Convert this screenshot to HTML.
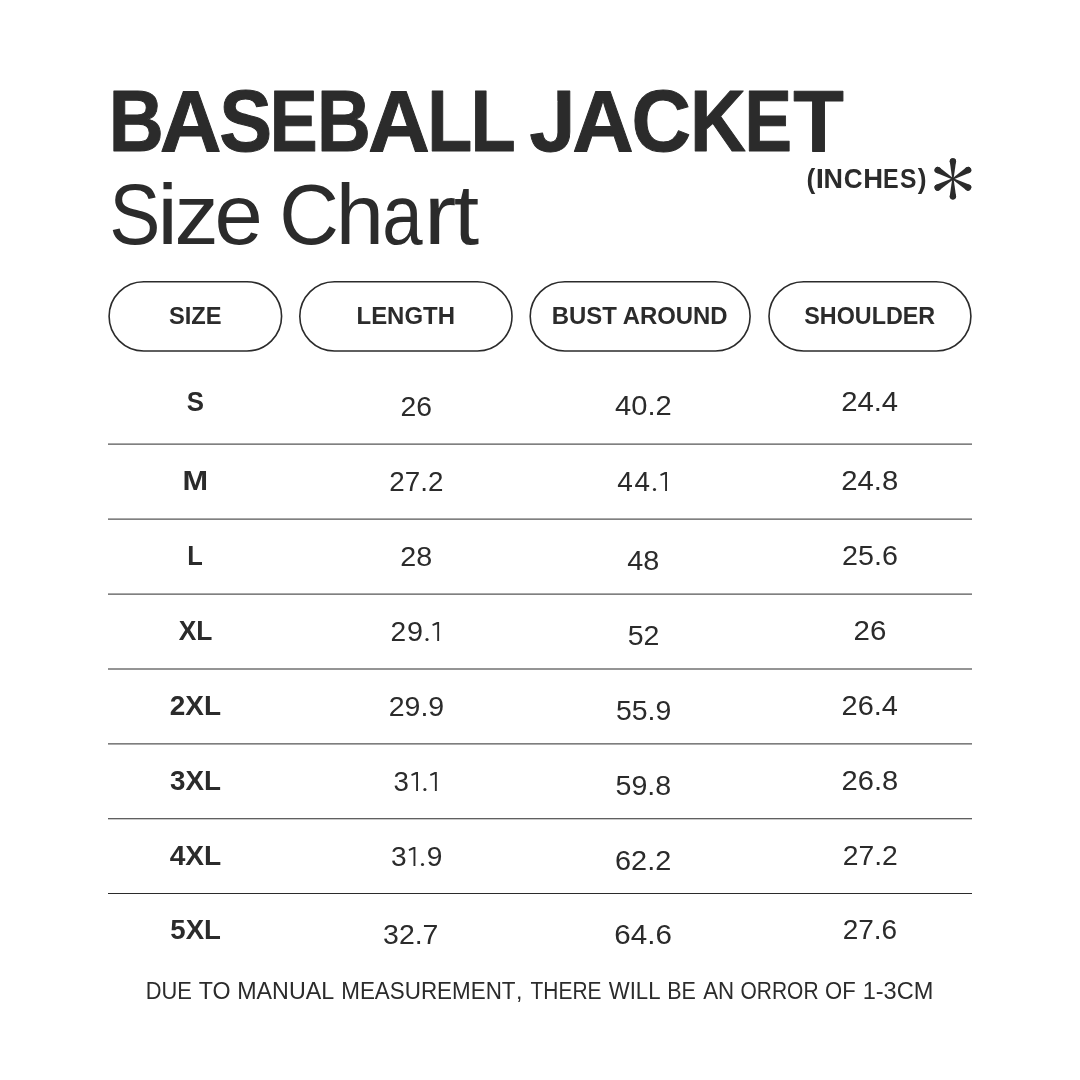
<!DOCTYPE html>
<html><head><meta charset="utf-8"><title>Baseball Jacket Size Chart</title>
<style>
html,body{margin:0;padding:0;background:#fff;width:1080px;height:1080px;overflow:hidden}
svg{display:block;position:absolute;left:0;top:0;will-change:transform}
text{font-family:"Liberation Sans",sans-serif;fill:#2b2b2b}
</style></head><body>
<svg width="1080" height="1080" viewBox="0 0 1080 1080">
<rect width="1080" height="1080" fill="#fff"/>
<g fill="none" stroke="#2b2b2b" stroke-width="1.6"><rect x="109.10" y="281.70" width="172.50" height="69.30" rx="34.65" ry="34.65"/><rect x="299.80" y="281.70" width="212.20" height="69.30" rx="34.65" ry="34.65"/><rect x="530.20" y="281.70" width="219.90" height="69.30" rx="34.65" ry="34.65"/><rect x="769.00" y="281.70" width="201.90" height="69.30" rx="34.65" ry="34.65"/></g>
<g stroke="#2b2b2b" stroke-width="1.0"><line x1="108" x2="972" y1="444.10" y2="444.10"/><line x1="108" x2="972" y1="519.10" y2="519.10"/><line x1="108" x2="972" y1="594.10" y2="594.10"/><line x1="108" x2="972" y1="669.00" y2="669.00"/><line x1="108" x2="972" y1="743.90" y2="743.90"/><line x1="108" x2="972" y1="818.75" y2="818.75"/><line x1="108" x2="972" y1="893.50" y2="893.50"/></g>
<g fill="#2b2b2b"><g transform="rotate(0 952.9 178.8)"><path d="M952.20 178.80 L949.75 161.30 A3.15 3.15 0 0 1 956.05 161.30 L953.60 178.80 Z"/><circle cx="952.9" cy="161.30" r="3.15"/></g><g transform="rotate(60 952.9 178.8)"><path d="M952.20 178.80 L949.75 161.30 A3.15 3.15 0 0 1 956.05 161.30 L953.60 178.80 Z"/><circle cx="952.9" cy="161.30" r="3.15"/></g><g transform="rotate(120 952.9 178.8)"><path d="M952.20 178.80 L949.75 161.30 A3.15 3.15 0 0 1 956.05 161.30 L953.60 178.80 Z"/><circle cx="952.9" cy="161.30" r="3.15"/></g><g transform="rotate(180 952.9 178.8)"><path d="M952.20 178.80 L949.75 161.30 A3.15 3.15 0 0 1 956.05 161.30 L953.60 178.80 Z"/><circle cx="952.9" cy="161.30" r="3.15"/></g><g transform="rotate(240 952.9 178.8)"><path d="M952.20 178.80 L949.75 161.30 A3.15 3.15 0 0 1 956.05 161.30 L953.60 178.80 Z"/><circle cx="952.9" cy="161.30" r="3.15"/></g><g transform="rotate(300 952.9 178.8)"><path d="M952.20 178.80 L949.75 161.30 A3.15 3.15 0 0 1 956.05 161.30 L953.60 178.80 Z"/><circle cx="952.9" cy="161.30" r="3.15"/></g></g>
<text transform="translate(168.89 323.68) scale(0.9648 1)" font-weight="bold" font-size="24.58">SIZE</text>
<text transform="translate(356.54 323.58) scale(0.9743 1)" font-weight="bold" font-size="24.58">LENGTH</text>
<text transform="translate(551.74 323.73) scale(0.9738 1)" font-weight="bold" font-size="24.58">BUST AROUND</text>
<text transform="translate(804.30 323.63) scale(0.9493 1)" font-weight="bold" font-size="24.58">SHOULDER</text>
<text transform="translate(186.82 410.80) scale(0.9090 1)" font-weight="bold" font-size="28.42">S</text>
<text transform="translate(400.48 415.77) scale(1.0008 1)" font-weight="normal" font-size="28.31">26</text>
<text transform="translate(615.07 414.72) scale(1.0295 1)" font-weight="normal" font-size="28.31">40.2</text>
<text transform="translate(841.14 410.91) scale(1.0341 1)" font-weight="normal" font-size="28.31">24.4</text>
<text transform="translate(182.40 490.05) scale(1.0808 1)" font-weight="bold" font-size="28.42">M</text>
<text transform="translate(389.31 491.06) scale(0.9822 1)" font-weight="normal" font-size="28.31">27.2</text>
<text transform="translate(617.30 490.92) scale(0.9891 1)" font-weight="normal" font-size="28.31">4</text>
<text transform="translate(634.50 490.92) scale(0.9820 1)" font-weight="normal" font-size="28.31">4</text>
<circle cx="654.50" cy="489.50" r="1.55" fill="#2b2b2b"/>
<path d="M667.00 491 L667.00 472.03 L664.90 472.03 L660.20 474.33 L660.80 476.03 L665.10 474.13 L665.10 491 Z" fill="#2b2b2b"/>
<text transform="translate(841.24 490.02) scale(1.0340 1)" font-weight="normal" font-size="28.31">24.8</text>
<text transform="translate(187.35 565.10) scale(0.8951 1)" font-weight="bold" font-size="28.42">L</text>
<text transform="translate(400.36 566.12) scale(1.0147 1)" font-weight="normal" font-size="28.31">28</text>
<text transform="translate(627.28 569.77) scale(1.0174 1)" font-weight="normal" font-size="28.31">48</text>
<text transform="translate(842.06 565.12) scale(1.0139 1)" font-weight="normal" font-size="28.31">25.6</text>
<text transform="translate(178.74 639.95) scale(0.9280 1)" font-weight="bold" font-size="28.42">XL</text>
<text transform="translate(390.59 640.92) scale(0.9937 1)" font-weight="normal" font-size="28.31">2</text>
<text transform="translate(406.90 640.92) scale(1.0179 1)" font-weight="normal" font-size="28.31">9</text>
<circle cx="427.00" cy="639.50" r="1.55" fill="#2b2b2b"/>
<path d="M439.10 641 L439.10 622.03 L437.00 622.03 L432.30 624.33 L432.90 626.03 L437.20 624.13 L437.20 641 Z" fill="#2b2b2b"/>
<text transform="translate(627.66 645.07) scale(1.0078 1)" font-weight="normal" font-size="28.31">52</text>
<text transform="translate(853.52 640.02) scale(1.0424 1)" font-weight="normal" font-size="28.31">26</text>
<text transform="translate(169.72 715.25) scale(0.9841 1)" font-weight="bold" font-size="28.42">2XL</text>
<text transform="translate(388.67 716.02) scale(1.0081 1)" font-weight="normal" font-size="28.31">29.9</text>
<text transform="translate(615.96 719.77) scale(1.0046 1)" font-weight="normal" font-size="28.31">55.9</text>
<text transform="translate(841.55 715.12) scale(1.0228 1)" font-weight="normal" font-size="28.31">26.4</text>
<text transform="translate(170.00 789.80) scale(0.9786 1)" font-weight="bold" font-size="28.42">3XL</text>
<text transform="translate(393.49 790.92) scale(0.9770 1)" font-weight="normal" font-size="28.31">3</text>
<path d="M418.00 791 L418.00 772.03 L415.90 772.03 L411.20 774.33 L411.80 776.03 L416.10 774.13 L416.10 791 Z" fill="#2b2b2b"/>
<circle cx="424.90" cy="789.50" r="1.55" fill="#2b2b2b"/>
<path d="M436.80 791 L436.80 772.03 L434.70 772.03 L430.00 774.33 L430.60 776.03 L434.90 774.13 L434.90 791 Z" fill="#2b2b2b"/>
<text transform="translate(615.56 795.07) scale(1.0095 1)" font-weight="normal" font-size="28.31">59.8</text>
<text transform="translate(841.54 790.02) scale(1.0283 1)" font-weight="normal" font-size="28.31">26.8</text>
<text transform="translate(169.68 865.10) scale(0.9908 1)" font-weight="bold" font-size="28.42">4XL</text>
<text transform="translate(390.88 866.12) scale(0.9921 1)" font-weight="normal" font-size="28.31">3</text>
<path d="M415.40 866 L415.40 847.03 L413.30 847.03 L408.60 849.33 L409.20 851.03 L413.50 849.13 L413.50 866 Z" fill="#2b2b2b"/>
<circle cx="422.50" cy="864.50" r="1.55" fill="#2b2b2b"/>
<text transform="translate(426.63 866.12) scale(0.9951 1)" font-weight="normal" font-size="28.31">9</text>
<text transform="translate(615.06 869.77) scale(1.0205 1)" font-weight="normal" font-size="28.31">62.2</text>
<text transform="translate(842.69 865.26) scale(0.9994 1)" font-weight="normal" font-size="28.31">27.2</text>
<text transform="translate(170.37 939.16) scale(0.9714 1)" font-weight="bold" font-size="28.42">5XL</text>
<text transform="translate(383.06 943.72) scale(1.0054 1)" font-weight="normal" font-size="28.31">32.7</text>
<text transform="translate(614.32 943.72) scale(1.0444 1)" font-weight="normal" font-size="28.31">64.6</text>
<text transform="translate(842.70 938.72) scale(0.9891 1)" font-weight="normal" font-size="28.31">27.6</text>
<text transform="translate(145.65 998.70) scale(0.9445 1)" font-weight="normal" font-size="23.14">DUE</text>
<text transform="translate(198.72 998.70) scale(1.0043 1)" font-weight="normal" font-size="23.14">TO</text>
<text transform="translate(237.24 998.70) scale(1.0059 1)" font-weight="normal" font-size="23.14">MANUAL</text>
<text transform="translate(341.21 998.70) scale(0.9695 1)" font-weight="normal" font-size="23.14">MEASUREMENT</text>
<text transform="translate(530.58 998.70) scale(0.9045 1)" font-weight="normal" font-size="23.14">THERE</text>
<text transform="translate(608.79 998.70) scale(0.9583 1)" font-weight="normal" font-size="23.14">WILL</text>
<text transform="translate(667.28 998.70) scale(0.9285 1)" font-weight="normal" font-size="23.14">BE</text>
<text transform="translate(703.19 998.70) scale(0.9635 1)" font-weight="normal" font-size="23.14">AN</text>
<text transform="translate(740.56 998.70) scale(0.9059 1)" font-weight="normal" font-size="23.14">ORROR</text>
<text transform="translate(825.01 998.70) scale(0.9536 1)" font-weight="normal" font-size="23.14">OF</text>
<text transform="translate(862.63 998.70) scale(1.0191 1)" font-weight="normal" font-size="23.14">1-3CM</text>
<text transform="translate(516.10 998.70) scale(1.0000 1)" font-weight="normal" font-size="23.14">,</text>
<text transform="translate(108.79 151.20) scale(0.8689 1)" font-weight="bold" font-size="87.60" stroke="#2b2b2b" stroke-width="1.0" stroke-linejoin="round">B</text>
<text transform="translate(159.85 151.20) scale(0.9767 1)" font-weight="bold" font-size="87.60" stroke="#2b2b2b" stroke-width="1.0" stroke-linejoin="round">A</text>
<text transform="translate(219.37 151.20) scale(0.9055 1)" font-weight="bold" font-size="87.60" stroke="#2b2b2b" stroke-width="1.0" stroke-linejoin="round">S</text>
<text transform="translate(269.74 151.20) scale(0.8199 1)" font-weight="bold" font-size="87.60" stroke="#2b2b2b" stroke-width="1.0" stroke-linejoin="round">E</text>
<text transform="translate(317.08 151.20) scale(0.8505 1)" font-weight="bold" font-size="87.60" stroke="#2b2b2b" stroke-width="1.0" stroke-linejoin="round">B</text>
<text transform="translate(367.95 151.20) scale(0.9784 1)" font-weight="bold" font-size="87.60" stroke="#2b2b2b" stroke-width="1.0" stroke-linejoin="round">A</text>
<text transform="translate(427.23 151.20) scale(0.8414 1)" font-weight="bold" font-size="87.60" stroke="#2b2b2b" stroke-width="1.0" stroke-linejoin="round">L</text>
<text transform="translate(470.62 151.20) scale(0.8436 1)" font-weight="bold" font-size="87.60" stroke="#2b2b2b" stroke-width="1.0" stroke-linejoin="round">L</text>
<text transform="translate(529.43 151.20) scale(0.9434 1)" font-weight="bold" font-size="87.60" stroke="#2b2b2b" stroke-width="1.0" stroke-linejoin="round">J</text>
<text transform="translate(572.36 151.20) scale(0.9717 1)" font-weight="bold" font-size="87.60" stroke="#2b2b2b" stroke-width="1.0" stroke-linejoin="round">A</text>
<text transform="translate(631.57 151.20) scale(0.9421 1)" font-weight="bold" font-size="87.60" stroke="#2b2b2b" stroke-width="1.0" stroke-linejoin="round">C</text>
<text transform="translate(690.01 151.20) scale(0.8834 1)" font-weight="bold" font-size="87.60" stroke="#2b2b2b" stroke-width="1.0" stroke-linejoin="round">K</text>
<text transform="translate(744.38 151.20) scale(0.8120 1)" font-weight="bold" font-size="87.60" stroke="#2b2b2b" stroke-width="1.0" stroke-linejoin="round">E</text>
<text transform="translate(793.24 151.20) scale(0.9453 1)" font-weight="bold" font-size="87.60" stroke="#2b2b2b" stroke-width="1.0" stroke-linejoin="round">T</text>
<text transform="translate(109.35 243.50) scale(0.9023 1)" font-weight="normal" font-size="85.00">S</text>
<text transform="translate(157.23 243.50) scale(1.0980 1)" font-weight="normal" font-size="85.00">i</text>
<text transform="translate(174.57 243.50) scale(1.0387 1)" font-weight="normal" font-size="85.00">z</text>
<text transform="translate(214.39 243.50) scale(1.0221 1)" font-weight="normal" font-size="85.00">e</text>
<text transform="translate(279.37 243.50) scale(0.9729 1)" font-weight="normal" font-size="85.00">C</text>
<text transform="translate(335.63 243.50) scale(1.0196 1)" font-weight="normal" font-size="85.00">h</text>
<text transform="translate(382.34 243.50) scale(0.8535 1)" font-weight="normal" font-size="85.00">a</text>
<text transform="translate(423.63 243.50) scale(1.1529 1)" font-weight="normal" font-size="85.00">r</text>
<text transform="translate(453.63 243.50) scale(1.0750 1)" font-weight="normal" font-size="85.00">t</text>
<text transform="translate(806.48 187.80) scale(0.9352 1)" font-weight="bold" font-size="28.26">(</text>
<text transform="translate(815.87 187.80) scale(1.0494 1)" font-weight="bold" font-size="28.26">I</text>
<text transform="translate(823.45 187.80) scale(0.9536 1)" font-weight="bold" font-size="28.26">N</text>
<text transform="translate(843.76 187.80) scale(0.9238 1)" font-weight="bold" font-size="28.26">C</text>
<text transform="translate(863.22 187.80) scale(0.9716 1)" font-weight="bold" font-size="28.26">H</text>
<text transform="translate(883.08 187.80) scale(0.8267 1)" font-weight="bold" font-size="28.26">E</text>
<text transform="translate(900.06 187.80) scale(0.8728 1)" font-weight="bold" font-size="28.26">S</text>
<text transform="translate(917.87 187.80) scale(0.9352 1)" font-weight="bold" font-size="28.26">)</text>
<rect x="544.5" y="88" width="12.8" height="14" fill="#fff"/>
</svg>
</body></html>
